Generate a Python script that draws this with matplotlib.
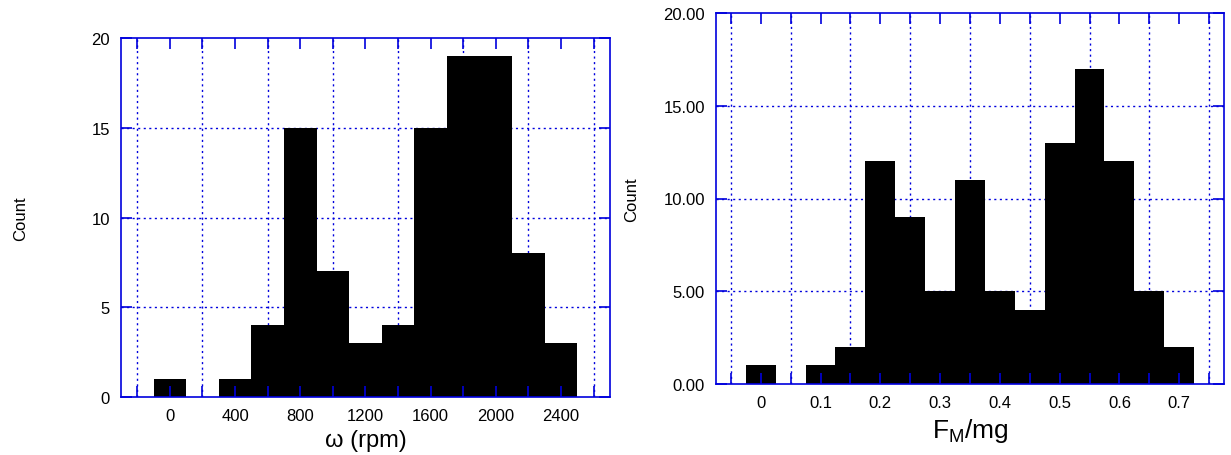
import matplotlib
matplotlib.use("Agg")
import matplotlib.pyplot as plt
from matplotlib.ticker import MultipleLocator, FormatStrFormatter

plt.rcParams['font.family'] = ['Liberation Sans', 'DejaVu Sans']
plt.rcParams['mathtext.fontset'] = 'custom'
plt.rcParams['mathtext.rm'] = 'Liberation Sans'

BLUE = '#0000dd'

# left histogram: rotation speed (rpm), bin width 200
omega_edges = [-100, 100, 300, 500, 700, 900, 1100, 1300, 1500, 1700, 1900, 2100, 2300, 2500]
omega_counts = [1, 0, 1, 4, 15, 7, 3, 4, 15, 19, 19, 8, 3]

# right histogram: F_M/mg, bin width 0.05
force_edges = [-0.025, 0.025, 0.075, 0.125, 0.175, 0.225, 0.275, 0.325, 0.375,
               0.425, 0.475, 0.525, 0.575, 0.625, 0.675, 0.725]
force_counts = [1, 0, 1, 2, 12, 9, 5, 11, 5, 4, 13, 17, 12, 5, 2]


def style_axes(ax, xmajor, xminor, fs):
    # blue frame, inward ticks on all four sides, drawn over the bars
    ax.set_axisbelow(False)
    for s in ax.spines.values():
        s.set_color(BLUE)
        s.set_linewidth(1.2)
    ax.xaxis.set_major_locator(MultipleLocator(xmajor))
    ax.xaxis.set_minor_locator(MultipleLocator(xminor))
    ax.yaxis.set_major_locator(MultipleLocator(5))
    ax.tick_params(which='both', direction='in', top=True, right=True,
                   color=BLUE, width=1.2, labelsize=fs, labelcolor='black', pad=8)
    ax.tick_params(which='both', length=8)
    ax.set_ylim(0, 20)
    # dotted grid behind the bars
    lo, hi = ax.get_xlim()
    for x in ax.xaxis.get_minorticklocs():
        if lo < x < hi:
            ax.axvline(x, color=BLUE, ls=(0, (1.5, 2.5)), lw=1, zorder=0)
    for y in [5, 10, 15]:
        ax.axhline(y, color=BLUE, ls=(0, (1.5, 2.5)), lw=1, zorder=0)


fig = plt.figure(figsize=(12.31, 4.56), dpi=100)

# left panel
ax1 = fig.add_axes([0.0983, 0.1272, 0.3972, 0.787])
ax1.bar(omega_edges[:-1], omega_counts, width=[b - a for a, b in zip(omega_edges[:-1], omega_edges[1:])],
        align='edge', color='black', zorder=1)
ax1.set_xlim(-300, 2700)
style_axes(ax1, 400, 200, 12)
ax1.set_xlabel('ω (rpm)', fontsize=17)
ax1.xaxis.set_label_coords(0.5, -0.09)
ax1.xaxis.label.set_va('top')
ax1.set_ylabel('Count', fontsize=12)
ax1.yaxis.set_label_coords(-0.19, 0.5)

# right panel
ax2 = fig.add_axes([0.5816, 0.1557, 0.4127, 0.8136])
ax2.bar(force_edges[:-1], force_counts, width=[b - a for a, b in zip(force_edges[:-1], force_edges[1:])],
        align='edge', color='black', zorder=1)
ax2.set_xlim(-0.075, 0.775)
style_axes(ax2, 0.1, 0.05, 12)
ax2.xaxis.set_major_formatter(FormatStrFormatter('%g'))
ax2.yaxis.set_major_formatter(FormatStrFormatter('%.2f'))
ax2.set_xlabel(r'F$_\mathregular{M}$/mg', fontsize=19)
ax2.xaxis.set_label_coords(0.5, -0.085)
ax2.xaxis.label.set_va('top')
ax2.set_ylabel('Count', fontsize=12)
ax2.yaxis.set_label_coords(-0.152, 0.5)

fig.savefig('out.png', dpi=100)
